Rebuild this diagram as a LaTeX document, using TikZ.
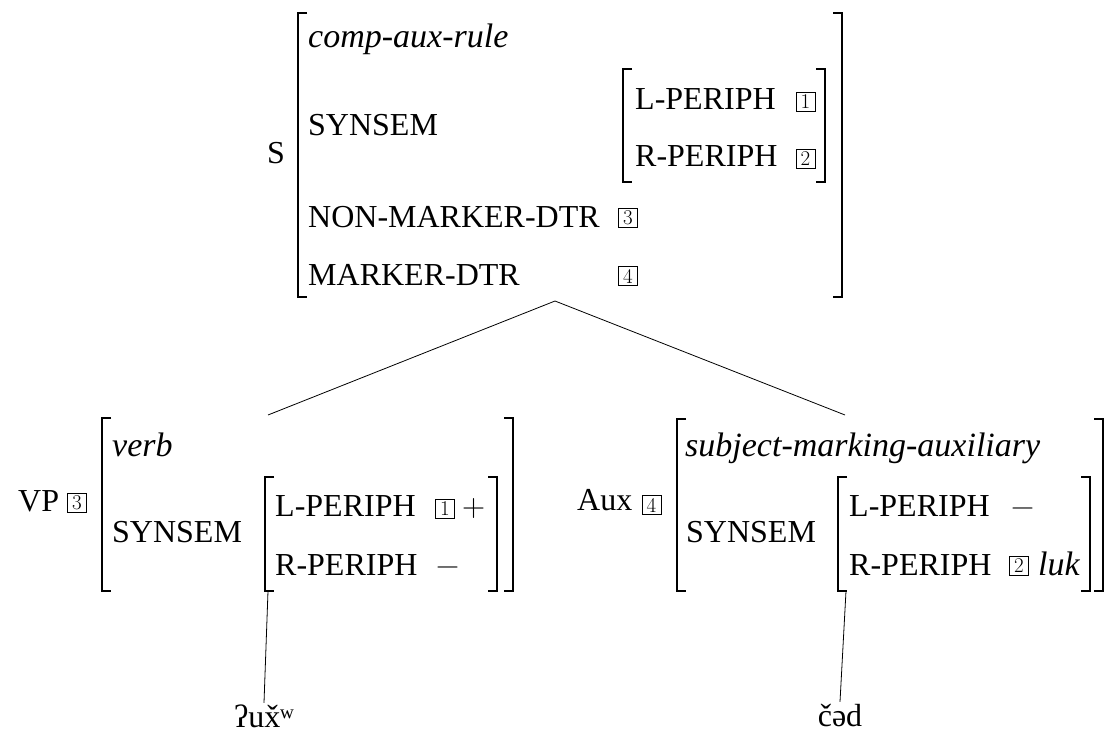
\documentclass[tikz,border=0pt]{standalone}
\usepackage{fontspec}
\setmainfont{Liberation Serif}
\newcommand{\lmsym}{\usefont{TU}{lmr}{m}{n}}
\begin{document}
\begin{tikzpicture}[x=1pt,y=-1pt,
  lbl/.style={anchor=base west, inner sep=0pt, font=\fontsize{32}{38}\selectfont},
  ilbl/.style={anchor=base west, inner sep=0pt, font=\fontsize{34}{40}\selectfont\itshape},
  sym/.style={anchor=base west, inner sep=0pt, font=\fontsize{32}{38}\lmsym},
  tag/.style={draw, line width=0.6pt, minimum size=19pt, inner sep=0pt, font=\fontsize{21}{21}\lmsym},
  brk/.style={line width=1.7pt, line join=miter},
  edge/.style={line width=0.8pt},
  leaf/.style={anchor=base, inner sep=0pt, text height=24pt, text depth=0pt, font=\fontsize{32}{38}\selectfont}]
\useasboundingbox (0,0) rectangle (1106,734);

% ---------- top AVM ----------
\node[lbl] (S) at (267,163) {S};
\draw[brk] (307,13) -- (298,13) -- (298,297) -- (307,297);
\draw[brk] (833,13) -- (842,13) -- (842,297) -- (833,297);
\node[ilbl] (sType) at (308,47) {comp-aux-rule};
\node[lbl] (sSyn) at (308,135) {SYNSEM};
\draw[brk] (632,69) -- (623,69) -- (623,182) -- (632,182);
\draw[brk] (816,69) -- (825,69) -- (825,182) -- (816,182);
\node[lbl] (sL) at (635,109) {L-PERIPH};
\node[tag] (sT1) at (805.5,102) {1};
\node[lbl] (sR) at (635,166) {R-PERIPH};
\node[tag] (sT2) at (805.5,159) {2};
\node[lbl] (sNM) at (308,227) {NON-MARKER-DTR};
\node[tag] (sT3) at (628,218) {3};
\node[lbl] (sM) at (308,285) {MARKER-DTR};
\node[tag] (sT4) at (628,276) {4};

\coordinate (sApex) at (555,301);
\coordinate (vpTop) at (268,415);
\coordinate (auxTop) at (845,415);
\draw[edge] (sApex) -- (vpTop);
\draw[edge] (sApex) -- (auxTop);

% ---------- left AVM (VP) ----------
\node[lbl] (VP) at (18,511) {VP};
\node[tag] (vT3) at (77,503) {3};
\draw[brk] (111,418) -- (102,418) -- (102,591) -- (111,591);
\draw[brk] (504,418) -- (513,418) -- (513,591) -- (504,591);
\node[ilbl] (vType) at (112,456) {verb};
\node[lbl] (vSyn) at (112,542) {SYNSEM};
\draw[brk] (274,477) -- (265,477) -- (265,591) -- (274,591);
\draw[brk] (488,477) -- (497,477) -- (497,591) -- (488,591);
\node[lbl] (vL) at (275,516) {L-PERIPH};
\node[tag] (vT1) at (445,508.5) {1};
\node[sym] (vPlus) at (462,516) {+};
\node[lbl] (vR) at (275,575) {R-PERIPH};
\node[sym] (vMinus) at (436,575) {−};

% ---------- right AVM (Aux) ----------
\node[lbl] (Aux) at (577,510) {Aux};
\node[tag] (aT4) at (651.5,505) {4};
\draw[brk] (686,419) -- (677,419) -- (677,591) -- (686,591);
\draw[brk] (1094,419) -- (1103,419) -- (1103,591) -- (1094,591);
\node[ilbl] (aType) at (685,456) {subject-marking-auxiliary};
\node[lbl] (aSyn) at (686,542) {SYNSEM};
\draw[brk] (847,477) -- (838,477) -- (838,591) -- (847,591);
\draw[brk] (1081,477) -- (1090,477) -- (1090,591) -- (1081,591);
\node[lbl] (aL) at (849,516) {L-PERIPH};
\node[sym] (aMinus) at (1011,516) {−};
\node[lbl] (aR) at (849,575) {R-PERIPH};
\node[tag] (aT2) at (1019,566) {2};
\node[ilbl] (aLuk) at (1038,575) {luk};

% ---------- leaves ----------
\coordinate (vpBot) at (268,591);
\coordinate (auxBot) at (846,591);
\node[leaf] (w1) at (264,727) {ʔux̌ʷ};
\node[leaf] (w2) at (840,726) {čəd};
\draw[edge] (vpBot) -- (w1.north);
\draw[edge] (auxBot) -- (w2.north);
\end{tikzpicture}
\end{document}
